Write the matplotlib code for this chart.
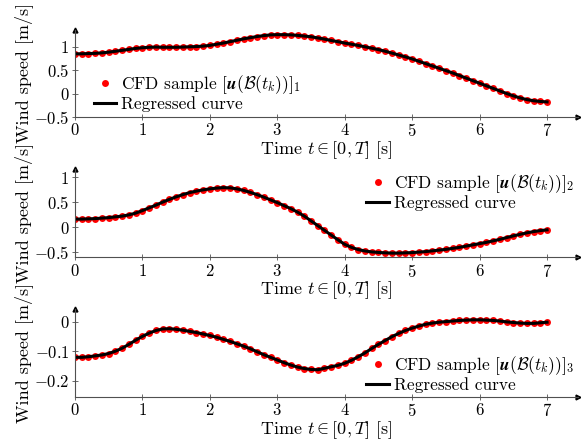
import numpy as np
import matplotlib
matplotlib.use("Agg")
import matplotlib.pyplot as plt

plt.rcParams['font.family'] = 'serif'
plt.rcParams['font.serif'] = ['cmr10']
plt.rcParams['mathtext.fontset'] = 'cm'
plt.rcParams['axes.formatter.use_mathtext'] = True

# Tiempo de muestreo (s)
t = np.round(np.arange(0, 7.01, 0.1), 2)

# Componentes de la velocidad del viento
u1 = [0.85, 0.85, 0.855, 0.86, 0.87, 0.885, 0.905, 0.925, 0.945, 0.965,
      0.98, 0.99, 0.995, 0.99, 0.99, 0.99, 0.995, 1.0, 1.005, 1.015,
      1.03, 1.055, 1.08, 1.11, 1.14, 1.17, 1.195, 1.22, 1.24, 1.255,
      1.26, 1.26, 1.255, 1.245, 1.23, 1.215, 1.19, 1.165, 1.135, 1.11,
      1.08, 1.055, 1.03, 1.0, 0.97, 0.94, 0.905, 0.865, 0.825, 0.785,
      0.74, 0.69, 0.64, 0.59, 0.54, 0.49, 0.44, 0.385, 0.33, 0.275,
      0.22, 0.165, 0.11, 0.055, 0.0, -0.05, -0.095, -0.13, -0.155, -0.17,
      -0.18]
u2 = [0.16, 0.16, 0.165, 0.17, 0.18, 0.19, 0.205, 0.22, 0.245, 0.28,
      0.33, 0.385, 0.44, 0.5, 0.555, 0.605, 0.65, 0.69, 0.72, 0.745,
      0.765, 0.78, 0.79, 0.785, 0.765, 0.735, 0.695, 0.65, 0.6, 0.545,
      0.49, 0.43, 0.37, 0.3, 0.22, 0.125, 0.03, -0.065, -0.16, -0.255,
      -0.345, -0.405, -0.45, -0.477, -0.496, -0.507, -0.515, -0.52, -0.52, -0.515,
      -0.51, -0.5, -0.49, -0.475, -0.46, -0.445, -0.425, -0.405, -0.38, -0.355,
      -0.33, -0.305, -0.275, -0.245, -0.21, -0.175, -0.145, -0.115, -0.09, -0.07,
      -0.055]
u3 = [-0.12, -0.12, -0.118, -0.115, -0.112, -0.107, -0.099, -0.089, -0.076, -0.062,
      -0.049, -0.038, -0.029, -0.024, -0.023, -0.025, -0.028, -0.032, -0.036, -0.041,
      -0.046, -0.052, -0.059, -0.066, -0.074, -0.082, -0.091, -0.101, -0.111, -0.12,
      -0.129, -0.138, -0.146, -0.153, -0.158, -0.161, -0.162, -0.157, -0.152, -0.147,
      -0.14, -0.13, -0.118, -0.105, -0.09, -0.076, -0.063, -0.05, -0.039, -0.029,
      -0.021, -0.014, -0.008, -0.004, -0.001, 0.001, 0.003, 0.005, 0.006, 0.007,
      0.007, 0.006, 0.005, 0.003, 0.0, -0.002, -0.004, -0.005, -0.005, -0.003,
      -0.001]

series = [u1, u2, u3]
ylims = [(-0.5, 1.36), (-0.6, 1.16), (-0.254, 0.044)]
yticks = [[-0.5, 0, 0.5, 1], [-0.5, 0, 0.5, 1], [-0.2, -0.1, 0]]
boxes = [[0.129, 0.735, 0.866, 0.197],
         [0.129, 0.417, 0.866, 0.1995],
         [0.129, 0.100, 0.866, 0.1995]]
legend_pos = [('lower left', (0.03, 0.015)),
              ('upper right', (1.0, 1.0)),
              ('lower right', (1.0, 0.005))]

fig = plt.figure(figsize=(5.81, 4.41), dpi=100)

for i, u in enumerate(series):
    ax = fig.add_axes(boxes[i])
    ax.plot(t, u, 'o', color='red', markersize=5, markeredgewidth=0,
            label=r'CFD sample $[\mathbfit{u}(\mathcal{B}(t_k))]_{%d}$' % (i + 1))
    ax.plot(t, u, '-', color='black', linewidth=2.2, label='Regressed curve')

    ax.set_xlim(0, 7.46)
    ax.set_ylim(*ylims[i])
    ax.set_xticks(range(8))
    ax.set_yticks(yticks[i])
    ax.yaxis.set_major_formatter(matplotlib.ticker.FuncFormatter(
        lambda v, p: '$%g$' % v if abs(v) > 1e-9 else '$0$'))

    for s in ['top', 'right']:
        ax.spines[s].set_visible(False)
    for s in ['left', 'bottom']:
        ax.spines[s].set_color('#505050')
        ax.spines[s].set_linewidth(0.8)
    ax.tick_params(direction='inout', length=4, width=0.6, color='#505050',
                   labelsize=12, pad=2)
    # flechas de los ejes
    ax.plot(1, 0, '>k', markersize=3.5, transform=ax.transAxes, clip_on=False)
    ax.plot(0, 1, '^k', markersize=3.5, transform=ax.transAxes, clip_on=False)

    ax.set_xlabel(r'Time $t \in [0,T]$ [s]', fontsize=13, labelpad=0)
    ax.set_ylabel('Wind speed [m/s]', fontsize=13)
    ax.yaxis.set_label_coords(-0.0835, 0.5)

    loc, anchor = legend_pos[i]
    ax.legend(loc=loc, bbox_to_anchor=anchor, frameon=False, fontsize=12.5,
              handlelength=1.3, handletextpad=0.3, labelspacing=0.0,
              borderpad=0.1, borderaxespad=0.1, markerscale=1.0)

fig.savefig('out.png', dpi=100)
